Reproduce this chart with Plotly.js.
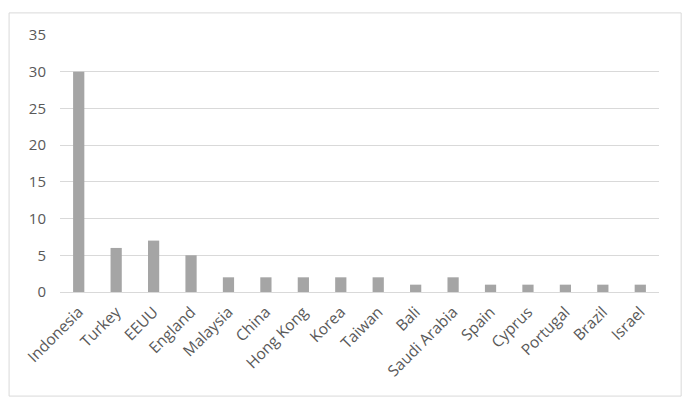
<!DOCTYPE html>
<html>
<head>
<meta charset="utf-8">
<script src="https://cdn.plot.ly/plotly-3.0.1.min.js"></script>
<style>
  html, body { margin: 0; padding: 0; background: #fff; }
  #chart { width: 694px; height: 406px; }
</style>
</head>
<body>
<div id="chart"></div>
<script>
// countries and counts
const countries = [
  "Indonesia", "Turkey", "EEUU", "England", "Malaysia", "China", "Hong Kong", "Korea",
  "Taiwan", "Bali", "Saudi Arabia", "Spain", "Cyprus", "Portugal", "Brazil", "Israel"
];
const counts = [30, 6, 7, 5, 2, 2, 2, 2, 2, 1, 2, 1, 1, 1, 1, 1];
const yTicks = [0, 5, 10, 15, 20, 25, 30, 35];

const textColor = "#595959";
const gridColor = "#d9d9d9";

const trace = {
  type: "bar",
  x: countries,
  y: counts,
  marker: { color: "#a5a5a5" },
  hoverinfo: "x+y",
};

const layout = {
  width: 694,
  height: 406,
  margin: { l: 60, r: 35, t: 35, b: 114 },
  paper_bgcolor: "#ffffff",
  plot_bgcolor: "#ffffff",
  showlegend: false,
  bargap: 0.7,
  font: { family: "Open Sans, Liberation Sans, sans-serif", size: 14, color: textColor },
  xaxis: {
    type: "category",
    tickangle: -45,
    showgrid: false,
    showline: false,
    ticks: "",
    ticklabelstandoff: 7,
    tickfont: { size: 15.5, color: textColor },
  },
  yaxis: {
    range: [0, 35],
    tickvals: yTicks,
    showgrid: true,
    gridcolor: gridColor,
    gridwidth: 1,
    zeroline: true,
    zerolinecolor: gridColor,
    zerolinewidth: 1,
    showline: false,
    ticks: "",
    ticklabelstandoff: 13,
    tickfont: { size: 15, color: textColor },
  },
  shapes: [{
    type: "rect",
    xref: "paper", yref: "paper",
    x0: -0.085, x1: 1.037, y0: -0.405, y1: 1.086,
    line: { color: gridColor, width: 1 },
    fillcolor: "rgba(0,0,0,0)",
    layer: "below",
  }],
};

Plotly.newPlot("chart", [trace], layout, { displayModeBar: false, staticPlot: true });
</script>
</body>
</html>
